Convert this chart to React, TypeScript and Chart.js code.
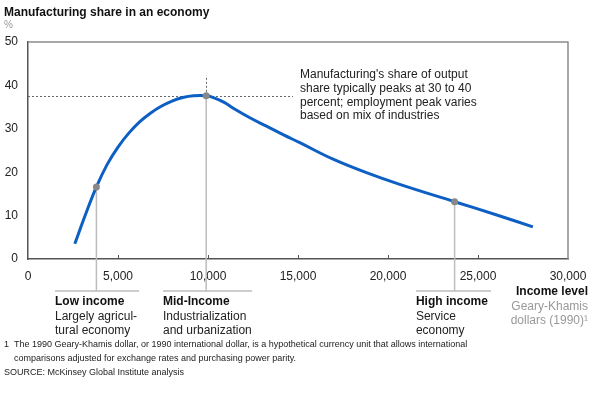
import React, { useEffect, useRef } from 'react';
import { Chart, registerables } from 'chart.js';

Chart.register(...registerables);

// ---- Data ----
const incomeLevels = [2600, 3200, 3800, 4400, 5000, 5600, 6200, 6800, 7400, 8000, 8600, 9200, 9900, 10300, 10900, 11500, 12300, 13250, 14200, 15100, 16950, 18800, 20650, 23700, 26000, 28050];
const manufacturingShare = [3.5, 10.3, 16.6, 21.8, 25.8, 29.0, 31.6, 33.6, 35.2, 36.4, 37.2, 37.6, 37.6, 37.2, 36.1, 34.5, 32.6, 30.6, 28.6, 26.8, 23.0, 19.9, 17.2, 13.2, 10.2, 7.4];

const stageIncome = [3800, 9900, 23700];
const stageShare = [16.6, 37.6, 13.2];
const stageTitles = ['Low income', 'Mid-Income', 'High income'];
const stageDescriptions = [
  ['Largely agricul-', 'tural economy'],
  ['Industrialization', 'and urbanization'],
  ['Service', 'economy'],
];
const stageRanges = [
  [1500, 6170],
  [7500, 12450],
  [21550, 25720],
];

const xTicks = [0, 5000, 10000, 15000, 20000, 25000, 30000];
const yTicks = [0, 10, 20, 30, 40, 50];

const peakShareLevel = 37.6;
const peakGuideEnd = 14720;
const peakGuideTop = 42.3;

const titleText = 'Manufacturing share in an economy';
const unitText = '%';
const annotationLines = [
  "Manufacturing's share of output",
  'share typically peaks at 30 to 40',
  'percent; employment peak varies',
  'based on mix of industries',
];
const axisTitle = 'Income level';
const axisSubtitle = ['Geary-Khamis', 'dollars (1990)\u00B9'];
const footnoteLines = [
  'The 1990 Geary-Khamis dollar, or 1990 international dollar, is a hypothetical currency unit that allows international',
  'comparisons adjusted for exchange rates and purchasing power parity.',
];
const sourceText = 'SOURCE: McKinsey Global Institute analysis';

const FONT = '"Liberation Sans", Arial, sans-serif';

const overlayPlugin = {
  id: 'overlay',
  beforeDatasetsDraw(chart: any) {
    const { ctx, chartArea: ca, scales } = chart;
    const x = scales.x;
    const y = scales.y;
    ctx.save();
    // frame top & right
    ctx.strokeStyle = '#8c8c8c';
    ctx.lineWidth = 1.5;
    ctx.beginPath();
    ctx.moveTo(ca.left, ca.top);
    ctx.lineTo(ca.right, ca.top);
    ctx.lineTo(ca.right, ca.bottom);
    ctx.stroke();

    // inner tick marks
    ctx.strokeStyle = '#555';
    ctx.lineWidth = 1;
    xTicks.forEach((t) => {
      if (t === xTicks[0] || t === xTicks[xTicks.length - 1]) return;
      const px = Math.round(x.getPixelForValue(t)) + 0.5;
      ctx.beginPath();
      ctx.moveTo(px, ca.bottom);
      ctx.lineTo(px, ca.bottom - 4);
      ctx.stroke();
    });

    // peak guide lines (dotted)
    const peakX = x.getPixelForValue(stageIncome[1]);
    const peakY = y.getPixelForValue(peakShareLevel);
    ctx.setLineDash([2, 2]);
    ctx.strokeStyle = '#666';
    ctx.lineWidth = 1;
    ctx.beginPath();
    ctx.moveTo(ca.left, Math.round(peakY) + 0.5);
    ctx.lineTo(x.getPixelForValue(peakGuideEnd), Math.round(peakY) + 0.5);
    ctx.stroke();
    ctx.beginPath();
    ctx.moveTo(Math.round(peakX) + 0.5, peakY);
    ctx.lineTo(Math.round(peakX) + 0.5, y.getPixelForValue(peakGuideTop));
    ctx.stroke();
    ctx.setLineDash([]);

    // stage connectors and brackets
    const bracketY = ca.bottom + 32;
    ctx.strokeStyle = '#bdbdbd';
    ctx.lineWidth = 1.5;
    stageIncome.forEach((v, i) => {
      const px = x.getPixelForValue(v);
      ctx.beginPath();
      ctx.moveTo(px, y.getPixelForValue(stageShare[i]));
      ctx.lineTo(px, bracketY);
      ctx.stroke();
      const [a, b] = stageRanges[i];
      ctx.beginPath();
      ctx.moveTo(x.getPixelForValue(a), bracketY);
      ctx.lineTo(x.getPixelForValue(b), bracketY);
      ctx.stroke();
    });
    ctx.restore();
  },
  afterDraw(chart: any) {
    const { ctx, chartArea: ca, scales } = chart;
    const x = scales.x;
    ctx.save();
    ctx.textBaseline = 'alphabetic';
    ctx.textAlign = 'left';
    // title
    ctx.fillStyle = '#111';
    ctx.font = `bold 12px ${FONT}`;
    ctx.fillText(titleText, 4, 16);
    ctx.fillStyle = '#999';
    ctx.font = `10px ${FONT}`;
    ctx.fillText(unitText, 4, 28);

    // annotation
    ctx.textBaseline = 'middle';
    ctx.fillStyle = '#222';
    ctx.font = `12px ${FONT}`;
    annotationLines.forEach((l, i) => ctx.fillText(l, 300, 75 + i * 13.6));

    // stage labels
    const bracketY = ca.bottom + 32;
    stageTitles.forEach((t, i) => {
      const lx = x.getPixelForValue(stageRanges[i][0]);
      ctx.font = `bold 12px ${FONT}`;
      ctx.fillStyle = '#111';
      ctx.fillText(t, lx, bracketY + 11);
      ctx.font = `12px ${FONT}`;
      ctx.fillStyle = '#222';
      stageDescriptions[i].forEach((d, j) => ctx.fillText(d, lx, bracketY + 25.3 + j * 14));
    });

    // axis title
    ctx.textAlign = 'right';
    ctx.font = `bold 12px ${FONT}`;
    ctx.fillStyle = '#111';
    ctx.fillText(axisTitle, 588, ca.bottom + 33);
    ctx.font = `12px ${FONT}`;
    ctx.fillStyle = '#999';
    axisSubtitle.forEach((s, i) => ctx.fillText(s, 588, ca.bottom + 47.5 + i * 14.5));

    // footnotes
    ctx.textAlign = 'left';
    ctx.fillStyle = '#222';
    ctx.font = `9px ${FONT}`;
    ctx.fillText('1', 4, 345);
    footnoteLines.forEach((l, i) => ctx.fillText(l, 14, 345 + i * 14));
    ctx.fillText(sourceText, 4, 373);
    ctx.restore();
  },
};

export default function App() {
  const ref = useRef<HTMLCanvasElement>(null);
  useEffect(() => {
    const canvas = ref.current;
    if (!canvas) return;
    const chart = new Chart(canvas, {
      type: 'line',
      data: {
        datasets: [
          {
            data: incomeLevels.map((v, i) => ({ x: v, y: manufacturingShare[i] })),
            borderColor: '#0d5fc3',
            borderWidth: 3,
            pointRadius: 0,
            tension: 0.4,
            fill: false,
            order: 1,
          },
          {
            data: stageIncome.map((v, i) => ({ x: v, y: stageShare[i] })),
            showLine: false,
            pointRadius: 3.5,
            pointBackgroundColor: '#888888',
            pointBorderWidth: 0,
            order: 0,
          },
        ],
      },
      options: {
        responsive: false,
        animation: false,
        events: [],
        layout: { padding: { top: 42, right: 32, bottom: 105, left: 0 } },
        plugins: { legend: { display: false }, tooltip: { enabled: false }, title: { display: false } },
        scales: {
          x: {
            type: 'linear',
            min: 0,
            max: 30000,
            afterBuildTicks: (s: any) => {
              s.ticks = xTicks.map((v) => ({ value: v }));
            },
            afterFit: (s: any) => {
              s.height = 30;
              s.paddingLeft = 0;
              s.paddingRight = 0;
            },
            grid: { display: false, drawTicks: false },
            border: { display: true, color: '#555', width: 1.5 },
            ticks: {
              autoSkip: false,
              maxRotation: 0,
              padding: 10,
              color: '#222',
              font: { size: 12, family: FONT },
              callback: (v: any) => Number(v).toLocaleString('en-US'),
            },
          },
          y: {
            type: 'linear',
            min: 0,
            max: 50,
            afterBuildTicks: (s: any) => {
              s.ticks = yTicks.map((v) => ({ value: v }));
            },
            afterFit: (s: any) => {
              s.width = 28;
              s.paddingTop = 0;
              s.paddingBottom = 0;
            },
            grid: { display: false, drawTicks: false },
            border: { display: true, color: '#555', width: 1.5 },
            ticks: {
              padding: 10,
              color: '#222',
              font: { size: 12, family: FONT },
            },
          },
        },
      } as any,
      plugins: [overlayPlugin],
    });
    return () => chart.destroy();
  }, []);
  return (
    <div style={{ position: 'fixed', left: 0, top: 0, width: 600, height: 394, background: '#fff' }}>
      <canvas ref={ref} width={600} height={394} style={{ width: 600, height: 394, display: 'block' }} />
    </div>
  );
}
